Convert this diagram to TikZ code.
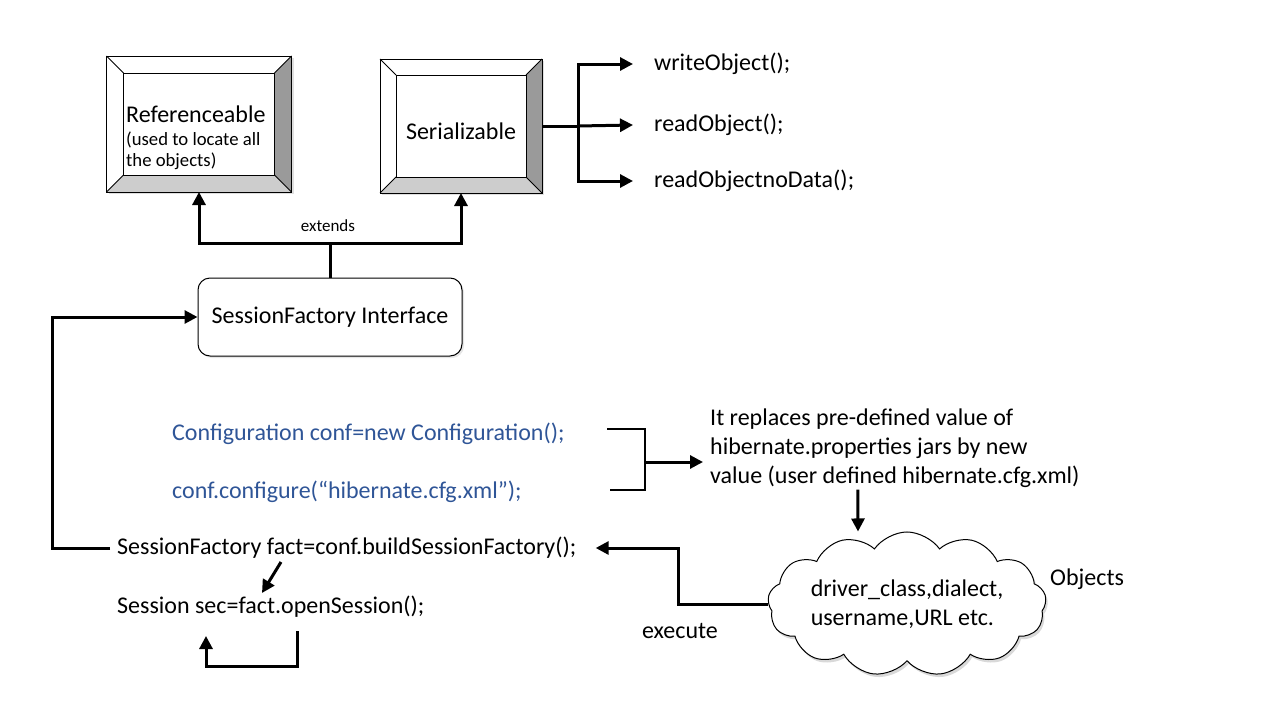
\documentclass[tikz,border=0pt]{standalone}
\usepackage{fontspec}
\setmainfont{Carlito}
\usetikzlibrary{positioning}
\usetikzlibrary{arrows.meta}
\usetikzlibrary{shapes.symbols}
\usetikzlibrary{shadows}

\definecolor{codeblue}{HTML}{2F5597}
\definecolor{bevelgray}{HTML}{9A9A9A}
\definecolor{bevellight}{HTML}{CDCDCD}

% bevel frame round a node: #1 node name, #2 bevel depth
\newcommand{\bevelframe}[2]{%
  \fill[bevelgray] (#1.north east) -- (#1.south east) -- ([shift={(-#2,-#2)}]#1.south east) -- ([shift={(-#2,#2)}]#1.north east) -- cycle;
  \fill[bevellight] (#1.south west) -- (#1.south east) -- ([shift={(-#2,-#2)}]#1.south east) -- ([shift={(#2,-#2)}]#1.south west) -- cycle;
  \draw[bevel line] ([shift={(#2,#2)}]#1.north west) rectangle ([shift={(-#2,-#2)}]#1.south east);
  \draw[bevel line] (#1.north west) -- ([shift={(#2,#2)}]#1.north west)
    (#1.north east) -- ([shift={(-#2,#2)}]#1.north east)
    (#1.south west) -- ([shift={(#2,-#2)}]#1.south west)
    (#1.south east) -- ([shift={(-#2,-#2)}]#1.south east);
  \draw[bevel line] (#1.north west) rectangle (#1.south east);
}

\begin{document}
\begin{tikzpicture}[x=1pt,y=-1pt,
	conn/.style={line width=3pt,-{Triangle[length=13pt,width=13pt]}},
	plain line/.style={line width=2.5pt},
	bevel line/.style={line width=1pt},
	bevel box/.style={rectangle,fill=white,outer sep=0pt,inner sep=0pt,
		drop shadow={shadow xshift=2pt,shadow yshift=-2pt,opacity=0.25}},
	txt/.style={inner sep=2pt,anchor=west,font=\fontsize{24}{30}\selectfont},
	code/.style={txt,text=codeblue},
	main font/.style={font=\fontsize{24}{30}\selectfont}]
	
	\useasboundingbox (0,0) rectangle (1280,720);
	
	% top boxes
	\node[bevel box,minimum width=185pt,minimum height=136pt] (ref) at (199,124) {};
	\bevelframe{ref}{17}
	\node[txt,align=left,anchor=north west] (reftext) at (124,104) {Referenceable\\[-7pt]
		{\fontsize{18.7}{22}\selectfont (used to locate all}\\[-9pt]
		{\fontsize{18.7}{22}\selectfont the objects)}};
	
	\node[bevel box,minimum width=162pt,minimum height=134pt] (ser) at (461,126) {};
	\bevelframe{ser}{16}
	\node[main font] (sertext) at (461,131) {Serializable};
	
	\node[txt] (wo) at (652,64) {writeObject();};
	\node[txt] (ro) at (652,125) {readObject();};
	\node[txt] (rond) at (652,181) {readObjectnoData();};
	
	\node[rectangle,rounded corners=12pt,draw,line width=1pt,fill=white,main font,
		minimum width=264pt,minimum height=78pt,
		drop shadow={shadow xshift=2pt,shadow yshift=-2pt,opacity=0.2}] (sfi) at (330,317) {SessionFactory Interface};
	\node[font=\fontsize{17}{20}\selectfont] (ext) at (328,226) {extends};
	
	% code lines
	\node[code] (conf1) at (170,434) {Configuration conf=new Configuration();};
	\node[code] (conf2) at (170,492) {conf.configure(“hibernate.cfg.xml”);};
	\node[txt,align=left] (rep) at (708,448) {It replaces pre-defined value of\\[-1pt]
		hibernate.properties jars by new\\[-1pt] value (user defined hibernate.cfg.xml)};
	\node[txt] (fact) at (115,548) {SessionFactory fact=conf.buildSessionFactory();};
	\node[txt] (sess) at (115,607) {Session sec=fact.openSession();};
	
	\node[cloud,cloud puffs=13,cloud puff arc=110,aspect=2.4,draw,line width=1pt,fill=white,
		inner sep=0pt,minimum width=262pt,minimum height=114pt,align=left,main font,
		drop shadow={shadow xshift=2pt,shadow yshift=-3pt,opacity=0.3}] (cloud) at (907,604)
		{driver\_class,dialect,\\[-1pt] username,URL etc.};
	\node[txt] (obj) at (1048,579) {Objects};
	\node[txt,anchor=center] (exe) at (680,631) {execute};
	
	\coordinate (btop) at (607,429);
	\coordinate (bbot) at (610,490);
	\coordinate (bmid) at (645,462);
	\coordinate (d1) at (281,562);
	\coordinate (d2) at (262,593);
	\coordinate (l1) at (297,631);
	\coordinate (l2) at (206,636);
	
	% connectors
	\draw[line width=3pt] (ser.east) -- ++(36,0) coordinate (j);
	\draw[conn] (j) |- ([xshift=-19pt]wo.west);
	\draw[conn] (j) -- ([xshift=-19pt]ro.west);
	\draw[conn] (j) |- ([xshift=-19pt]rond.west);
	\draw[conn] (sfi.north) -- ++(0,-34) coordinate (e) -| (ref.south);
	\draw[conn] (e) -| (ser.south);
	\draw[conn] ([xshift=-5pt]fact.west) -- ++(-58,0) |- (sfi.west);
	\draw[plain line] (btop) -| (bmid |- bbot) -- (bbot);
	\draw[conn] (bmid) -- ([xshift=-5pt]rep.west |- bmid);
	\draw[conn] ([xshift=-37pt]rep.south) -- ([xshift=-49pt]cloud.north);
	\draw[conn] (cloud.west) -- ++(-90,0) |- ([xshift=17pt]fact.east);
	\draw[conn] (d1) -- (d2);
	\draw[conn] (l1) -- ++(0,35) -| (l2);
	
\end{tikzpicture}
\end{document}
